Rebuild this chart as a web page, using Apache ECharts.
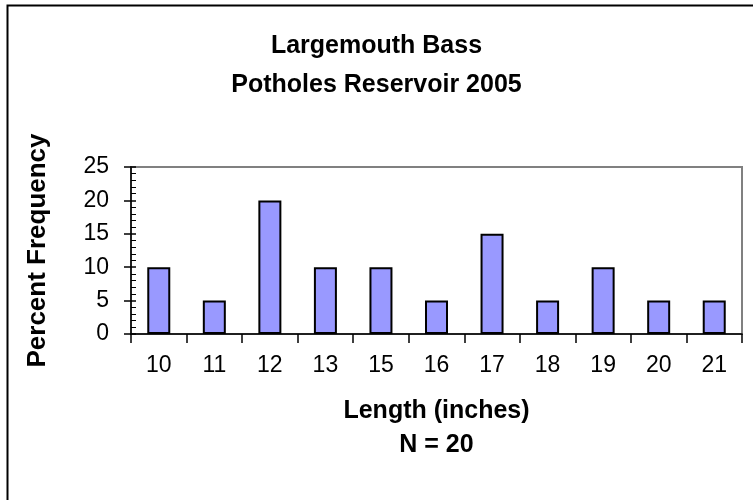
<!DOCTYPE html>
<html>
<head>
<meta charset="utf-8">
<script src="https://cdn.jsdelivr.net/npm/echarts@6/dist/echarts.min.js"></script>
<style>
html,body{margin:0;padding:0;background:#fff;}
#chart{width:753px;height:500px;}
</style>
</head>
<body>
<div id="chart"></div>
<script>
const categories = ['10','11','12','13','15','16','17','18','19','20','21'];
const percentFrequency = [10, 5, 20, 10, 10, 5, 15, 5, 10, 5, 5];
const titleLines = ['Largemouth Bass', 'Potholes Reservoir 2005'];
const xAxisTitle = ['Length (inches)', 'N = 20'];
const yAxisTitle = 'Percent Frequency';

const FONT = '"Liberation Sans", Arial, sans-serif';
const chart = echarts.init(document.getElementById('chart'), null, {renderer: 'canvas'});
chart.setOption({
  animation: false,
  backgroundColor: '#ffffff',
  textStyle: {fontFamily: FONT},
  title: {
    text: titleLines.join('\n'),
    left: 'center',
    top: 22,
    textStyle: {fontFamily: FONT, fontSize: 25, fontWeight: 'bold', color: '#000', lineHeight: 39}
  },
  grid: {
    left: 131, right: 11, top: 167, bottom: 166,
    show: true, borderColor: '#808080', borderWidth: 2, backgroundColor: 'transparent'
  },
  xAxis: {
    type: 'category',
    data: categories,
    boundaryGap: true,
    name: xAxisTitle.join('\n'),
    nameLocation: 'middle',
    nameGap: 60,
    nameTextStyle: {fontFamily: FONT, fontSize: 25, fontWeight: 'bold', color: '#000', lineHeight: 34},
    axisLine: {lineStyle: {color: '#000', width: 1.5}},
    axisTick: {show: true, length: 9, inside: false, alignWithLabel: false, lineStyle: {color: '#000', width: 1.5}},
    axisLabel: {fontFamily: FONT, fontSize: 23, color: '#000', margin: 20},
    splitLine: {show: false}
  },
  yAxis: [{
    type: 'value',
    min: 0, max: 25, interval: 5,
    name: yAxisTitle,
    nameLocation: 'middle',
    nameGap: 80,
    nameTextStyle: {fontFamily: FONT, fontSize: 26, fontWeight: 'bold', color: '#000'},
    axisLine: {show: true, lineStyle: {color: '#000', width: 1.5}},
    axisTick: {show: true, length: 7, inside: false, lineStyle: {color: '#000', width: 1.5}},
    axisLabel: {fontFamily: FONT, fontSize: 23, color: '#000', margin: 22},
    splitLine: {show: false}
  }, {
    type: 'value',
    position: 'left',
    min: 0, max: 25, interval: 5,
    axisLine: {show: false},
    axisTick: {show: true, length: 5, inside: true, lineStyle: {color: '#000', width: 1.5}},
    minorTick: {show: true, splitNumber: 5, length: 5, lineStyle: {color: '#000', width: 1}},
    axisLabel: {show: false},
    splitLine: {show: false}
  }],
  series: [{
    type: 'bar',
    data: percentFrequency,
    barWidth: 23,
    itemStyle: {color: '#9999ff', borderColor: '#000', borderWidth: 2}
  }],
  graphic: [{
    type: 'polyline',
    shape: {points: [[7.5, 500], [7.5, 5.5], [753, 5.5]]},
    style: {stroke: '#000', lineWidth: 2, fill: null},
    silent: true
  }]
});
</script>
</body>
</html>
